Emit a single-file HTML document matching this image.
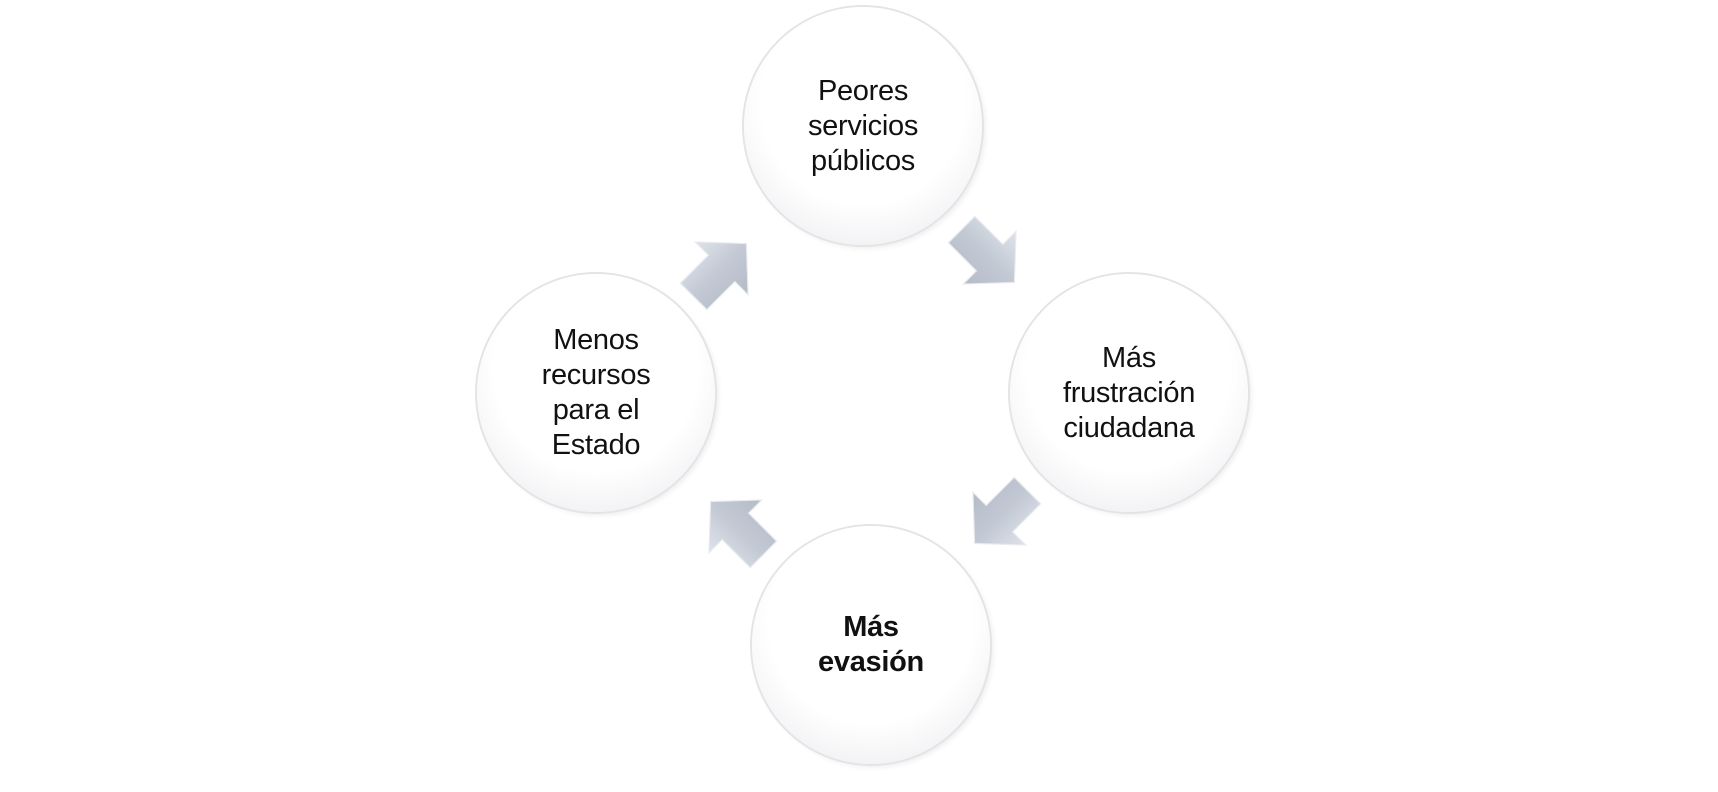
<!DOCTYPE html>
<html><head><meta charset="utf-8"><style>
body{margin:0;width:1718px;height:792px;background:#fff;overflow:hidden;position:relative;font-family:"Liberation Sans","DejaVu Sans",sans-serif}
.c{position:absolute;width:238px;height:238px;border-radius:50%;
background:radial-gradient(circle at 50% 40%,#fff 0%,#fff 55%,#f4f4f6 75%,#e6e6ea 92%,#d9d9dd 100%);
box-shadow:0 0 0 2px #e4e4e6, 3px 3px 6px rgba(0,0,0,0.08);
display:flex;align-items:center;justify-content:center;text-align:center;font-size:29px;line-height:35px;color:#111;letter-spacing:-0.3px}
.a{position:absolute;width:84px;height:84px}
</style></head><body>
<div class="c" style="left:744px;top:7px">Peores<br>servicios<br>públicos</div>
<div class="c" style="left:1010px;top:274px">Más<br>frustración<br>ciudadana</div>
<div class="c" style="left:752px;top:526px;font-weight:bold">Más<br>evasión</div>
<div class="c" style="left:477px;top:274px">Menos<br>recursos<br>para el<br>Estado</div>
<svg width="0" height="0" style="position:absolute"><defs>
<linearGradient id="g" x1="0" y1="0" x2="0" y2="1"><stop offset="0" stop-color="#dfe3ea"/><stop offset="0.5" stop-color="#c3c9d4"/><stop offset="1" stop-color="#b4bbc7"/></linearGradient></defs></svg>
<svg class="a" style="left:678px;top:228px;transform:rotate(-45deg)" viewBox="0 0 72 72"><polygon points="4,20 38,20 38,4 68,36 38,68 38,52 4,52" fill="url(#g)" stroke="#e8eaee" stroke-width="1"/></svg>
<svg class="a" style="left:946px;top:214px;transform:rotate(45deg)" viewBox="0 0 72 72"><polygon points="4,20 38,20 38,4 68,36 38,68 38,52 4,52" fill="url(#g)" stroke="#e8eaee" stroke-width="1"/></svg>
<svg class="a" style="left:959px;top:475px;transform:rotate(135deg)" viewBox="0 0 72 72"><polygon points="4,20 38,20 38,4 68,36 38,68 38,52 4,52" fill="url(#g)" stroke="#e8eaee" stroke-width="1"/></svg>
<svg class="a" style="left:695px;top:486px;transform:rotate(-135deg)" viewBox="0 0 72 72"><polygon points="4,20 38,20 38,4 68,36 38,68 38,52 4,52" fill="url(#g)" stroke="#e8eaee" stroke-width="1"/></svg>
</body></html>
